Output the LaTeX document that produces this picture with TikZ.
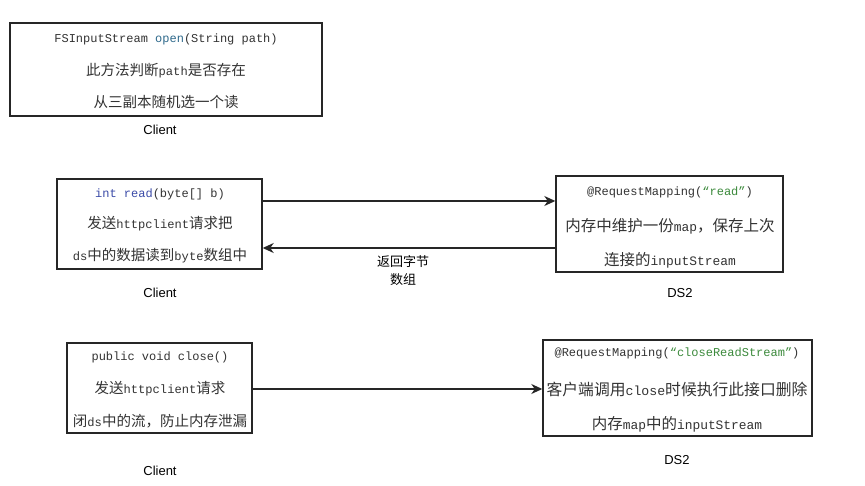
\documentclass[tikz,border=0pt]{standalone}
\usepackage{fontspec}
\setmainfont{Liberation Sans}
\setmonofont{Liberation Mono}
\newfontfamily\cjk{Noto Sans CJK SC}
\usetikzlibrary{arrows.meta}
\definecolor{txt}{HTML}{333333}
\definecolor{kw}{HTML}{3B4BA8}
\definecolor{fn}{HTML}{2F6A8C}
\definecolor{str}{HTML}{3C8A3C}
% Chinese run, Latin run inside Chinese lines (optional size), code line
\newcommand\zh[2][14.5]{{\cjk\fontsize{#1}{#1}\selectfont #2}}
\newcommand\la[2][12.1]{{\ttfamily\fontsize{#1}{#1}\selectfont #2}}
\newcommand\codefont{\ttfamily\fontsize{12}{12}\selectfont}
\begin{document}
\begin{tikzpicture}[x=1pt,y=-1pt,
  box/.style={draw=black!85,line width=1.4pt,inner sep=0pt},
  line/.style={inner sep=0pt,text=txt,anchor=center},
  tag/.style={inner sep=0pt,font=\fontsize{13}{13}\selectfont,text=black},
  conn/.style={line width=1.4pt,draw=black!85,-{Stealth[length=11pt,width=10pt,inset=3.5pt]}}]
\useasboundingbox (0,0) rectangle (865,486);
\fill[white] (0,0) rectangle (865,486);

% boxes
\node[box,minimum width=312pt,minimum height=93pt] (b1) at (166,69.5) {};
\node[box,minimum width=205pt,minimum height=90pt] (b2) at (159.5,224) {};
\node[box,minimum width=227pt,minimum height=96pt] (b3) at (669.5,224) {};
\node[box,minimum width=185pt,minimum height=90pt] (b4) at (159.5,388) {};
\node[box,minimum width=269pt,minimum height=96pt] (b5) at (677.5,388) {};

% box 1 text
\node[line] (t11) at (166,39) {\codefont FSInputStream \textcolor{fn}{open}(String path)};
\node[line] (t12) at (166,71) {\zh{此方法判断}\la{path}\zh{是否存在}};
\node[line] (t13) at (166,102) {\zh{从三副本随机选一个读}};
\node[tag] (c1) at (160,130) {Client};

% box 2 text
\node[line] (t21) at (160,194) {\codefont\textcolor{kw}{int read}(byte[] b)};
\node[line] (t22) at (160,224) {\zh{发送}\la{httpclient}\zh{请求把}};
\node[line] (t23) at (160,256) {\la{ds}\zh{中的数据读到}\la{byte}\zh{数组中}};
\node[tag] (c2) at (160,293) {Client};

% box 3 text
\node[line] (t31) at (670,192) {\codefont @RequestMapping(\textcolor{str}{“read”})};
\node[line] (t32) at (670,226) {\zh[15.5]{内存中维护一份}\la[12.9]{map}\zh[15.5]{，保存上次}};
\node[line] (t33) at (670,260) {\zh[15.5]{连接的}\la[12.9]{inputStream}};
\node[tag] (d1) at (680,293) {DS2};

% box 4 text
\node[line] (t41) at (160,357) {\codefont public void close()};
\node[line] (t42) at (160,389) {\zh{发送}\la{httpclient}\zh{请求}};
\node[line] (t43) at (160,421) {\zh{闭}\la{ds}\zh{中的流，防止内存泄漏}};
\node[tag] (c3) at (160,471) {Client};

% box 5 text
\node[line] (t51) at (677,353) {\codefont @RequestMapping(\textcolor{str}{“closeReadStream”})};
\node[line] (t52) at (677,389) {\zh[15.8]{客户端调用}\la[13.2]{close}\zh[15.8]{时候执行此接口删除}};
\node[line] (t53) at (677,424) {\zh[15.5]{内存}\la[12.9]{map}\zh[15.5]{中的}\la[12.9]{inputStream}};
\node[tag] (d2) at (677,460) {DS2};

% connectors
\draw[conn] (b2.east |- 0,201) -- (b3.west |- 0,201);
\draw[conn] (b3.west |- 0,248) -- (b2.east |- 0,248);
\node[inner sep=0pt,align=center,font=\cjk\fontsize{13}{18}\selectfont] (ret) at (403,271) {返回字节\\数组};
\draw[conn] (b4.east |- 0,389) -- (b5.west |- 0,389);
\end{tikzpicture}
\end{document}
